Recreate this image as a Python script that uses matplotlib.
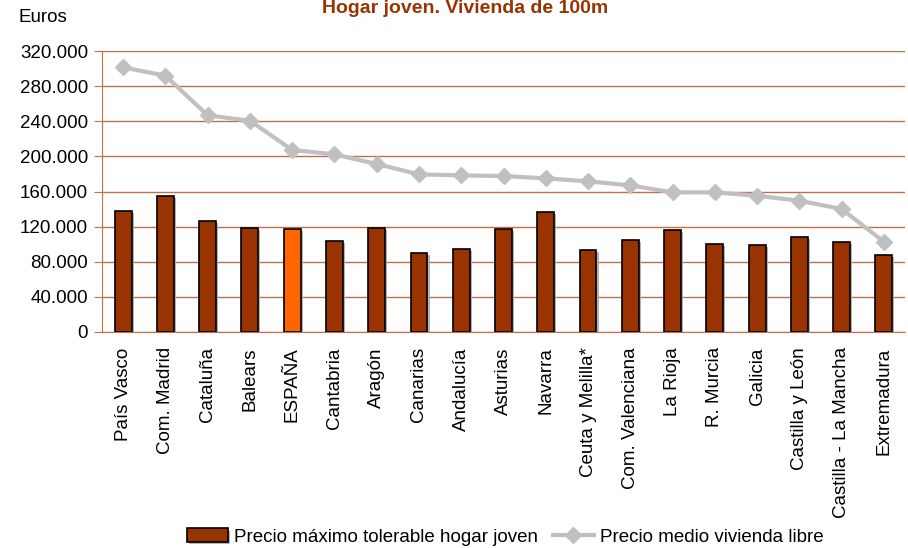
import matplotlib.pyplot as plt
import matplotlib.patheffects as pe
import numpy as np
from matplotlib.ticker import FuncFormatter

plt.rcParams["font.family"] = ["Liberation Sans", "DejaVu Sans"]

regions = ["País Vasco", "Com. Madrid", "Cataluña", "Balears", "ESPAÑA", "Cantabria",
           "Aragón", "Canarias", "Andalucía", "Asturias", "Navarra", "Ceuta y Melilla*",
           "Com. Valenciana", "La Rioja", "R. Murcia", "Galicia", "Castilla y León",
           "Castilla - La Mancha", "Extremadura"]
precio_tolerable = [137800, 155200, 126700, 118400, 117300, 103600, 118800, 89600, 94900,
                    117300, 136300, 93700, 104800, 116500, 99900, 99100, 108200, 102800, 88000]
precio_medio = [301400, 291900, 246700, 240600, 207300, 202300, 191300, 179500, 178400,
                177600, 175000, 171600, 167000, 159000, 159000, 155200, 149500, 140100, 102800]

x = np.arange(len(regions))
bar_colors = ["#FF6600" if r == "ESPAÑA" else "#993300" for r in regions]
grid_color = "#C0704A"

fig = plt.figure(figsize=(9.08, 5.48), dpi=100)
ax = fig.add_axes([102 / 908, 1 - 332 / 548, 803 / 908, 281 / 548])

# Horizontal gridlines behind everything.
ax.set_axisbelow(True)
ax.yaxis.grid(True, color=grid_color, linewidth=1.0)

bars = ax.bar(x, precio_tolerable, width=0.4, color=bar_colors, edgecolor="black",
              linewidth=1.2, label="Precio máximo tolerable hogar joven", zorder=2,
              path_effects=[pe.SimplePatchShadow(offset=(1.5, -1.5), shadow_rgbFace="#AAAAAA", alpha=0.9),
                            pe.Normal()])
line, = ax.plot(x, precio_medio, color="#C0C0C0", linewidth=3, marker="D", markersize=8,
                label="Precio medio vivienda libre", zorder=3)

ax.set_xlim(-0.5, len(regions) - 0.5)
ax.set_ylim(0, 320000)
ax.set_yticks(np.arange(0, 320001, 40000))
ax.yaxis.set_major_formatter(FuncFormatter(lambda v, p: f"{int(v):,}".replace(",", ".")))
ax.set_xticks(x)
ax.set_xticklabels(regions, rotation=90, fontsize=13.5)
ax.tick_params(axis="x", length=0, pad=11)
ax.tick_params(axis="y", length=6, color=grid_color, labelsize=13.5, pad=4)

for side in ["top", "right"]:
    ax.spines[side].set_visible(False)
ax.spines["left"].set_color(grid_color)
ax.spines["bottom"].set_color(grid_color)

fig.text(18 / 908, 1 - 18 / 548, "Euros", fontsize=13.5, va="center", ha="left")
fig.text(465 / 908, 1.0, "Hogar joven. Vivienda de 100m", fontsize=14,
         fontweight="bold", color="#993300", ha="center", va="top")

ax.legend(handles=[bars, line], loc="center", bbox_to_anchor=(505 / 908, 1 - 537 / 548),
          bbox_transform=fig.transFigure, ncol=2, frameon=False, fontsize=13.5,
          handlelength=2.2, handletextpad=0.3, columnspacing=0.8)

plt.savefig("out.png", dpi=100)
